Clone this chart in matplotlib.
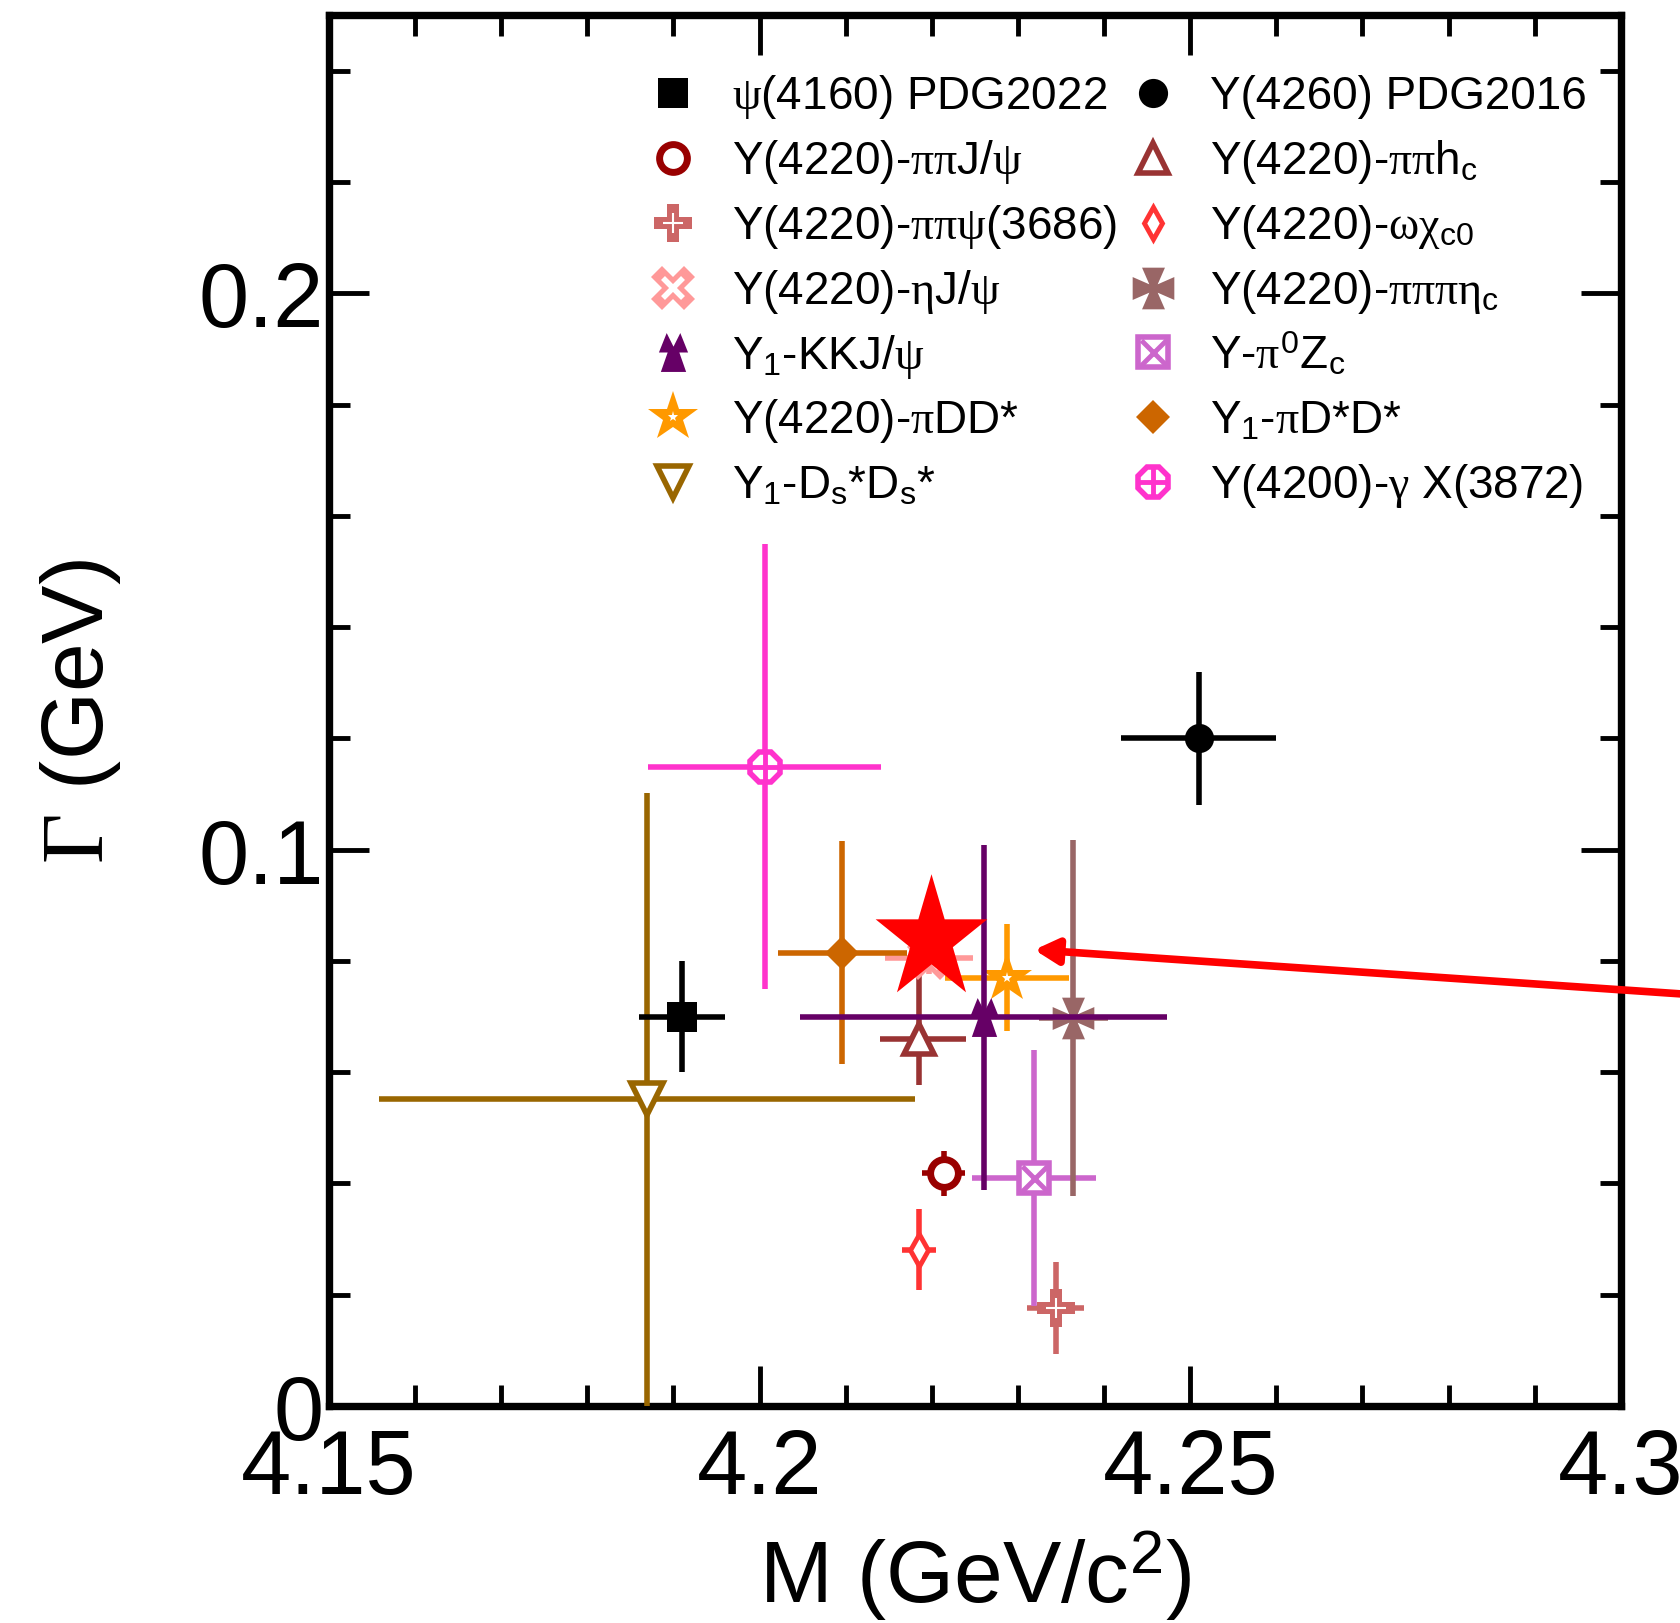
import numpy as np
import matplotlib
matplotlib.use('Agg')
from matplotlib import pyplot as plt
from matplotlib.path import Path
from matplotlib.ticker import MultipleLocator

plt.rcParams['font.family'] = 'Liberation Sans'
plt.rcParams['mathtext.fontset'] = 'custom'
plt.rcParams['mathtext.rm'] = 'Liberation Sans'
plt.rcParams['mathtext.it'] = 'Liberation Serif'
plt.rcParams['mathtext.bf'] = 'Liberation Serif'

labels = [r'Y$_\mathrm{1}$-D$_\mathrm{s}$*D$_\mathrm{s}$*',
          r'Y(4200)-$\gamma$ X(3872)',
          r'$\psi$(4160) PDG2022',
          'Y(4260) PDG2016',
          r'Y(4220)-$\pi\pi$J/$\psi$',
          r'Y(4220)-$\omega\chi_\mathrm{c0}$',
          r'Y(4220)-$\pi\pi\psi$(3686)',
          r'Y-$\pi^\mathrm{0}$Z$_\mathrm{c}$',
          r'Y(4220)-$\pi\pi$h$_\mathrm{c}$',
          r'Y(4220)-$\eta$J/$\psi$',
          r'Y(4220)-$\pi\pi\pi\eta_\mathrm{c}$',
          r'Y$_\mathrm{1}$-$\pi$D*D*',
          r'Y(4220)-$\pi$DD*',
          r'Y$_\mathrm{1}$-KKJ/$\psi$']
mass = [4.1869, 4.2006, 4.191, 4.251, 4.2214, 4.2185, 4.2344, 4.2319,
        4.2185, 4.2197, 4.2364, 4.2096, 4.2287, 4.2260]
mass_lo = [0.0311, 0.0135, 0.005, 0.009, 0.0025, 0.002, 0.0033, 0.0072,
           0.0045, 0.0051, 0.004, 0.0075, 0.0072, 0.0213]
mass_hi = [0.0311, 0.0135, 0.005, 0.009, 0.0025, 0.002, 0.0033, 0.0072,
           0.0055, 0.0051, 0.004, 0.0075, 0.0072, 0.0213]
width = [0.0551, 0.1149, 0.070, 0.120, 0.0418, 0.0281, 0.0176, 0.041,
         0.066, 0.0806, 0.0698, 0.0815, 0.077, 0.0699]
width_lo = [0.0551, 0.040, 0.010, 0.012, 0.004, 0.0073, 0.0082, 0.023,
            0.0083, 0.003, 0.032, 0.020, 0.0096, 0.031]
width_hi = [0.0551, 0.040, 0.010, 0.012, 0.004, 0.0073, 0.0082, 0.023,
            0.0123, 0.003, 0.032, 0.020, 0.0096, 0.031]
colors = ['#996600', '#ff33cc', 'black', 'black', '#990000', '#ff3333',
          '#cc6666', '#cc66cc', '#993333', '#ff9999', '#996666', '#cc6600',
          '#ff9900', '#660066']

# legend layout: indices per column
legend_cols = [[2, 4, 6, 9, 13, 12, 0], [3, 8, 5, 10, 7, 11, 1]]

star_mass = 4.2199
star_width = 0.0839
arrow_tip = (4.2319, 0.0820)
arrow_tail = (4.32, 0.0727)

xticks = [4.15, 4.2, 4.25, 4.3]
xtick_labels = ['4.15', '4.2', '4.25', '4.3']
yticks = [0, 0.1, 0.2]
ytick_labels = ['0', '0.1', '0.2']


def star_path(ratio=0.382, squeeze=0.9):
    ang = np.pi / 2 + np.arange(10) * np.pi / 5
    r = np.where(np.arange(10) % 2 == 0, 1.0, ratio)
    v = np.column_stack([squeeze * r * np.cos(ang), r * np.sin(ang)])
    return Path(np.vstack([v, v[:1]]), closed=True)


def closed(verts):
    v = np.array(verts, dtype=float)
    return Path(np.vstack([v, v[:1]]), closed=True)


# cross pattee like shape
pattee = closed([(-0.55, 1), (0.55, 1), (0.2, 0.2), (1, 0.55), (1, -0.55),
                 (0.2, -0.2), (0.55, -1), (-0.55, -1), (-0.2, -0.2),
                 (-1, -0.55), (-1, 0.55), (-0.2, 0.2)])
twin_peaks = closed([(-0.75, 0.0), (-0.35, 1.0), (0, 0.3), (0.35, 1.0),
                     (0.75, 0.0), (0.3, 0.0), (0.65, -1.0), (-0.65, -1.0),
                     (-0.3, 0.0)])

W = 'white'
# marker layers: (marker, size, face, edge, edge width)
styles = [
    [('v', 23, W, colors[0], 4)],
    [('8', 24, W, colors[1], 4), ('+', 22, 'none', colors[1], 3.5)],
    [('s', 22, 'black', 'black', 0)],
    [('o', 21, 'black', 'black', 0)],
    [('o', 20, W, colors[4], 5)],
    [('d', 16, W, colors[5], 3.5)],
    [('P', 27, colors[6], colors[6], 0), ('+', 15, 'none', W, 1.5)],
    [('s', 22, W, colors[7], 4), ('x', 18, 'none', colors[7], 3.5)],
    [('^', 22, W, colors[8], 4)],
    [('X', 32, colors[9], colors[9], 0), ('x', 14, 'none', W, 4)],
    [(pattee, 30, colors[10], colors[10], 0)],
    [('D', 17, colors[11], colors[11], 0)],
    [('*', 38, colors[12], colors[12], 0), ('*', 8, W, W, 0)],
    [(twin_peaks, 28, colors[13], colors[13], 0)],
]


def draw_marker(ax, x, y, layers, z, **kw):
    for m, s, fc, ec, ew in layers:
        ax.plot([x], [y], linestyle='none', marker=m, ms=s, mfc=fc, mec=ec,
                mew=ew, zorder=z, **kw)


fig = plt.figure(figsize=(16.8, 16.24), dpi=100)
ax = fig.add_axes([0.1958, 0.1336, 0.769, 0.8565])

for i in range(len(labels)):
    z = 3 + i
    ax.errorbar(mass[i], width[i],
                xerr=[[mass_lo[i]], [mass_hi[i]]],
                yerr=[[width_lo[i]], [width_hi[i]]],
                fmt='none', ecolor=colors[i], elinewidth=4, capsize=0,
                zorder=z)
    draw_marker(ax, mass[i], width[i], styles[i], z + 0.5)

ax.plot([star_mass], [star_width], linestyle='none', marker=star_path(),
        ms=94, color='red', mew=0, zorder=30)

ax.annotate('', xy=arrow_tip, xytext=arrow_tail,
            arrowprops=dict(arrowstyle='-|>,head_length=0.7,head_width=0.38',
                            mutation_scale=20, lw=5.5, color='red',
                            shrinkA=0, shrinkB=0),
            annotation_clip=False, zorder=31)

# legend drawn by hand (two columns, evenly spaced rows)
mk_x = [0.2663, 0.6378]
tx_x = [0.3119, 0.6819]
row0 = 0.9439
dy = 0.04659
for c, col in enumerate(legend_cols):
    for r, idx in enumerate(col):
        yy = row0 - r * dy
        draw_marker(ax, mk_x[c], yy, styles[idx], 20, transform=ax.transAxes)
        ax.text(tx_x[c], yy - 0.011, labels[idx], transform=ax.transAxes,
                fontsize=33, ha='left', va='baseline')

ax.set_xlim(4.15, 4.3)
ax.set_ylim(0, 0.25)
ax.set_xticks(xticks, xtick_labels)
ax.set_yticks(yticks, ytick_labels)
ax.xaxis.set_minor_locator(MultipleLocator(0.01))
ax.yaxis.set_minor_locator(MultipleLocator(0.02))
ax.tick_params(which='both', direction='in', top=True, right=True, width=3.5)
ax.tick_params(which='major', length=29, labelsize=65)
ax.tick_params(axis='x', which='major', pad=15)
ax.tick_params(axis='y', which='major', pad=4)
ax.tick_params(which='minor', length=15)
for sp in ax.spines.values():
    sp.set_linewidth(5.3)

ax.set_xlabel(r'M (GeV/c$^\mathrm{2}$)', fontsize=63, labelpad=12)
ax.set_ylabel(r'$\mathbf{\Gamma}$ (GeV)', fontsize=63, labelpad=54)

fig.savefig('out.png', dpi=100)
